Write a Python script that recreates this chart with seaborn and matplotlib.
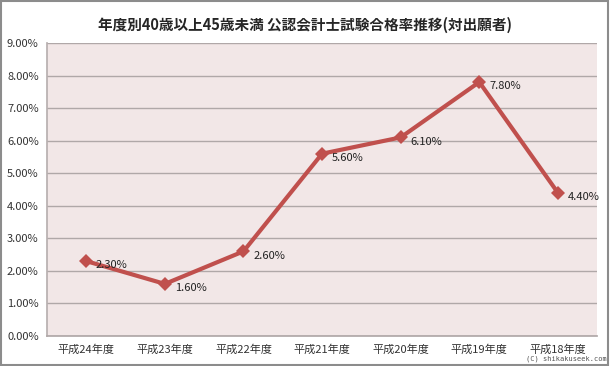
import matplotlib
matplotlib.use("Agg")
import matplotlib.pyplot as plt
import seaborn as sns
import pandas as pd
from matplotlib.ticker import PercentFormatter

# Data
years = ["平成24年度", "平成23年度", "平成22年度", "平成21年度",
         "平成20年度", "平成19年度", "平成18年度"]
rates = [2.30, 1.60, 2.60, 5.60, 6.10, 7.80, 4.40]
title = "年度別40歳以上45歳未満 公認会計士試験合格率推移(対出願者)"

df = pd.DataFrame({"年度": years, "合格率": rates})

sns.set_theme(style="white")
plt.rcParams["font.family"] = ["Noto Sans CJK JP", "DejaVu Sans"]

fig = plt.figure(figsize=(6.1, 3.66), dpi=100)
ax = fig.add_axes([0.077, 0.082, 0.902, 0.8005])
ax.set_facecolor("#F2E7E7")

sns.lineplot(data=df, x="年度", y="合格率", ax=ax, color="#C0504D",
             linewidth=3, marker="D", markersize=7, markeredgewidth=0,
             sort=False)

for i, v in enumerate(rates):
    ax.annotate(f"{v:.2f}%", (i, v), xytext=(7, -3), textcoords="offset points",
                fontsize=8, va="center", ha="left", color="#222222")

ax.set_ylim(0, 9)
ax.set_yticks(range(0, 10))
ax.yaxis.set_major_formatter(PercentFormatter(decimals=2))
ax.set_xlim(-0.5, len(years) - 0.5)
ax.grid(axis="y", color="#B0A8A8", linewidth=1)
ax.set_axisbelow(True)
ax.set_xlabel("")
ax.set_ylabel("")
ax.tick_params(axis="both", labelsize=8, length=0, pad=6, colors="#333333")
for side in ["top", "right"]:
    ax.spines[side].set_visible(False)
ax.spines["bottom"].set_color("#B0A8A8")
ax.spines["left"].set_color("#B8B0B0")

fig.suptitle(title, x=0.5, y=0.955, fontsize=10.5, fontweight="bold")
fig.text(0.995, 0.01, "(C) shikakuseek.com", fontsize=5, color="#555555",
         family="DejaVu Sans Mono", ha="right", va="bottom")

# outer border
fig.patches.append(plt.Rectangle((0.001, 0.002), 0.996, 0.996, transform=fig.transFigure,
                                 fill=False, edgecolor="#8C8C8C", linewidth=1.5))

fig.savefig("out.png", dpi=100)
